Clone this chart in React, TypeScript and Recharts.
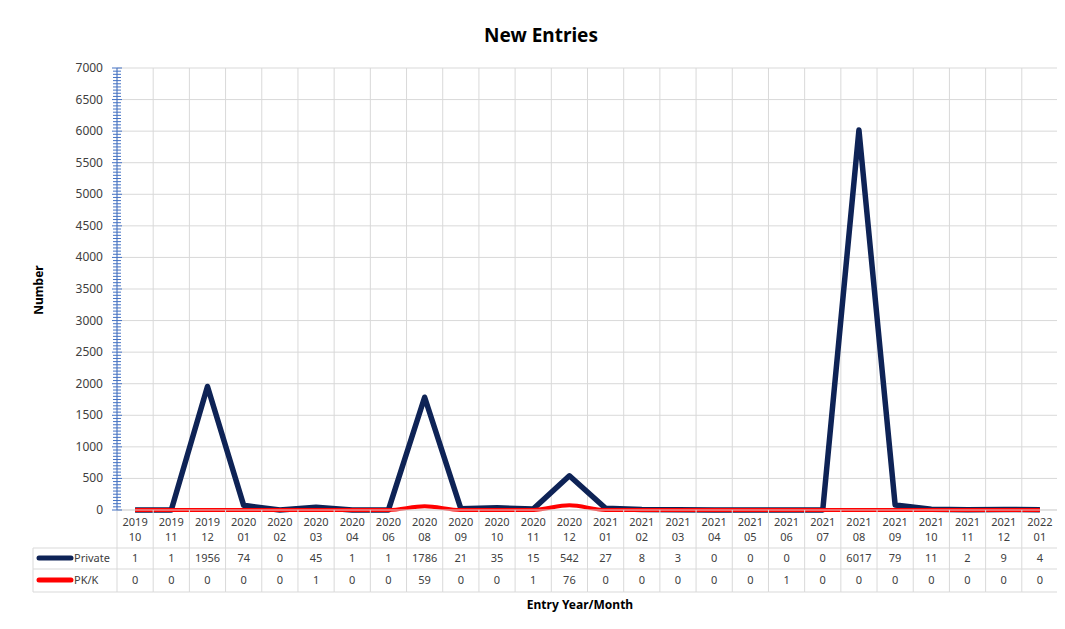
import React from 'react';
import { LineChart, Line, XAxis, YAxis, CartesianGrid } from 'recharts';

const periods = [
  '2019 10', '2019 11', '2019 12',
  '2020 01', '2020 02', '2020 03', '2020 04', '2020 06', '2020 08', '2020 09', '2020 10', '2020 11', '2020 12',
  '2021 01', '2021 02', '2021 03', '2021 04', '2021 05', '2021 06', '2021 07', '2021 08', '2021 09', '2021 10', '2021 11', '2021 12',
  '2022 01',
];
const privateEntries = [1, 1, 1956, 74, 0, 45, 1, 1, 1786, 21, 35, 15, 542, 27, 8, 3, 0, 0, 0, 0, 6017, 79, 11, 2, 9, 4];
const pkkEntries = [0, 0, 0, 0, 0, 1, 0, 0, 59, 0, 0, 1, 76, 0, 0, 0, 0, 0, 1, 0, 0, 0, 0, 0, 0, 0];
const yMajorTicks = [0, 500, 1000, 1500, 2000, 2500, 3000, 3500, 4000, 4500, 5000, 5500, 6000, 6500, 7000];
const yMinorStep = 50;

const chartData = periods.map((period, i) => ({
  period,
  private: privateEntries[i],
  pkk: pkkEntries[i],
}));

// minor ticks every 50 between the labelled ones
const yTicks = Array.from({ length: 7000 / yMinorStep + 1 }, (_, i) => i * yMinorStep);

const W = 1056;
const H = 620;
const PLOT_LEFT = 109;
const PLOT_RIGHT = 1050;
const BAND = (PLOT_RIGHT - PLOT_LEFT) / periods.length;
const GRID = '#d9d9d9';
const AXIS_BLUE = '#4472c4';
const TEXT = '#404040';
const NAVY = '#0e2356';
const RED = '#ff0000';
const FONT = '"Noto Sans", "Open Sans", sans-serif';

const YTick = (props: any) => {
  const { x, y, payload } = props;
  const major = payload.value % 500 === 0;
  const len = major ? 5 : 4;
  return (
    <g>
      <line x1={x - len} x2={x + len} y1={y} y2={y} stroke={AXIS_BLUE} strokeWidth={1} />
      {major && (
        <text x={x - 14} y={y} dy={4} textAnchor="end" fontSize={12} fill={TEXT} fontFamily={FONT}>
          {payload.value}
        </text>
      )}
    </g>
  );
};

const XTick = (props: any) => {
  const { x, y, payload } = props;
  const i = periods.indexOf(payload.value);
  const [yr, mo] = String(payload.value).split(' ');
  const half = BAND / 2;
  const txt = { fontSize: 11, fill: TEXT, fontFamily: FONT, textAnchor: 'middle' as const };
  return (
    <g>
      <line x1={x - half} x2={x - half} y1={y} y2={y + 82} stroke={GRID} />
      {i === periods.length - 1 && <line x1={x + half} x2={x + half} y1={y} y2={y + 82} stroke={GRID} />}
      {[38, 59, 82].map((d) => (
        <line key={d} x1={x - half} x2={x + half} y1={y + d} y2={y + d} stroke={GRID} />
      ))}
      <text x={x} y={y + 16} {...txt}>{yr}</text>
      <text x={x} y={y + 31} {...txt}>{mo}</text>
      <text x={x} y={y + 52} {...txt}>{privateEntries[i]}</text>
      <text x={x} y={y + 74} {...txt}>{pkkEntries[i]}</text>
      {i === 0 && (
        <g>
          {[38, 59, 82].map((d) => (
            <line key={d} x1={25} x2={x - half} y1={y + d} y2={y + d} stroke={GRID} />
          ))}
          <line x1={25} x2={25} y1={y + 38} y2={y + 82} stroke={GRID} />
          <line x1={31} x2={63} y1={y + 48} y2={y + 48} stroke={NAVY} strokeWidth={5} strokeLinecap="round" />
          <text x={66} y={y + 52} fontSize={11} fill={TEXT} fontFamily={FONT}>Private</text>
          <line x1={31} x2={63} y1={y + 70} y2={y + 70} stroke={RED} strokeWidth={5} strokeLinecap="round" />
          <text x={66} y={y + 74} fontSize={11} fill={TEXT} fontFamily={FONT}>PK/K</text>
        </g>
      )}
    </g>
  );
};

export default function App() {
  return (
    <div style={{ position: 'relative', width: W, height: H, background: '#fff' }}>
      <div
        style={{
          position: 'absolute', left: -1, top: -1, width: W + 2, height: H + 2,
          borderTop: `1px solid ${GRID}`, borderLeft: `1px solid ${GRID}`, boxSizing: 'border-box',
        }}
      />
      <LineChart
        width={W}
        height={H}
        data={chartData}
        margin={{ top: 60, right: W - PLOT_RIGHT, bottom: 18, left: PLOT_LEFT - 60 }}
      >
        <CartesianGrid
          stroke={GRID}
          horizontalValues={yMajorTicks}
          verticalCoordinatesGenerator={({ offset }: any) =>
            periods.map((_, i) => offset.left + (i * offset.width) / periods.length).concat(offset.left + offset.width)
          }
        />
        <XAxis
          dataKey="period"
          scale="band"
          interval={0}
          height={100}
          tickSize={0}
          tickMargin={0}
          tickLine={false}
          axisLine={{ stroke: GRID }}
          tick={<XTick />}
        />
        <YAxis
          width={60}
          domain={[0, 7000]}
          ticks={yTicks}
          interval={0}
          tickSize={0}
          tickMargin={0}
          tickLine={false}
          axisLine={{ stroke: AXIS_BLUE }}
          tick={<YTick />}
        />
        <Line
          dataKey="private"
          type="linear"
          stroke={NAVY}
          strokeWidth={5.5}
          strokeLinejoin="round"
          dot={false}
          isAnimationActive={false}
        />
        <Line
          dataKey="pkk"
          type="monotone"
          stroke={RED}
          strokeWidth={4}
          dot={false}
          isAnimationActive={false}
        />
      </LineChart>
      <svg width={W} height={H} style={{ position: 'absolute', left: 0, top: 0, pointerEvents: 'none' }}>
        <text x={533} y={34} textAnchor="middle" fontSize={19} fontWeight="bold" fill="#000" fontFamily={FONT}>
          New Entries
        </text>
        <text
          x={35}
          y={282}
          transform="rotate(-90 35 282)"
          textAnchor="middle"
          fontSize={12}
          fontWeight="bold"
          fill="#000"
          fontFamily={FONT}
        >
          Number
        </text>
        <text x={572} y={601} textAnchor="middle" fontSize={12} fontWeight="bold" fill="#000" fontFamily={FONT}>
          Entry Year/Month
        </text>
      </svg>
    </div>
  );
}
